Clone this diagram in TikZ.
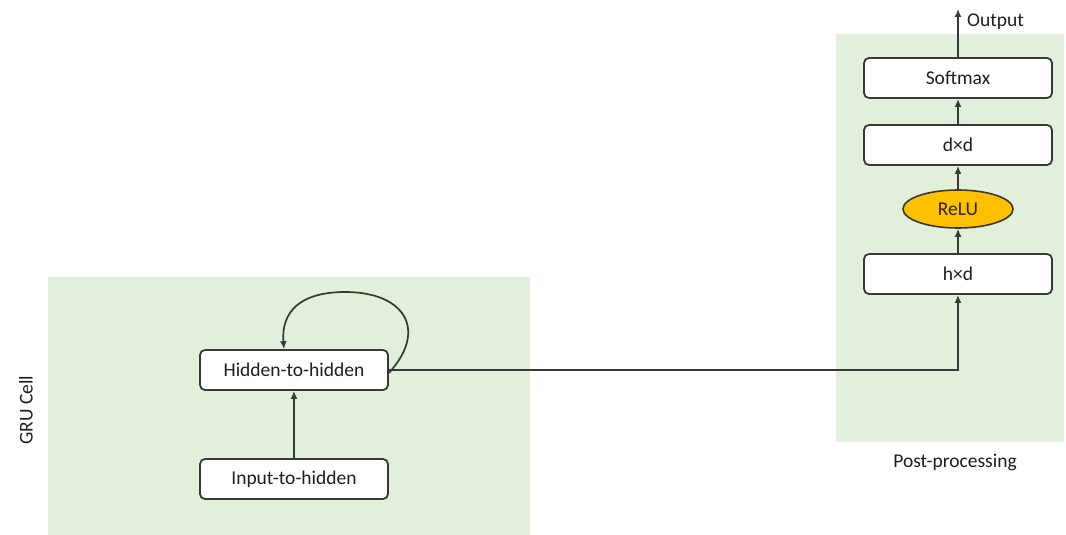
\documentclass[tikz,border=0pt]{standalone}
\usepackage{fontspec}
\setmainfont{Carlito}
\usetikzlibrary{arrows.meta,shapes.geometric}
\definecolor{panelgreen}{HTML}{E2EFDA}
\definecolor{edgegray}{HTML}{383838}
\definecolor{txtgray}{HTML}{1E1E1E}
\definecolor{relugold}{HTML}{FFC000}
\tikzset{
  panel/.style={fill=panelgreen, draw=none},
  layerbox/.style={draw=edgegray, line width=1.8pt, fill=white, rounded corners=5pt,
    minimum width=#1, minimum height=40pt, inner sep=0pt, text=txtgray},
  actnode/.style={ellipse, draw=edgegray, line width=1.6pt, fill=relugold,
    minimum width=110pt, minimum height=38pt, inner sep=0pt, text=black!85},
  link/.style={draw=edgegray, line width=1.7pt, -{Latex[length=8pt,width=7pt]}},
  lbl/.style={text=txtgray, inner sep=0pt}
}
\begin{document}
\begin{tikzpicture}[x=1pt, y=-1pt, font=\fontsize{19.5}{23}\selectfont]
\useasboundingbox (0,0) rectangle (1066,535);
% background panels
\path[panel] (48,277) rectangle (530,535);
\path[panel] (836,34) rectangle (1064,442);

% GRU cell
\node[layerbox=188pt] (hid) at (294,370) {Hidden-to-hidden};
\node[layerbox=188pt] (inp) at (294,479) {Input-to-hidden};
\node[lbl, rotate=90] (gru) at (26,410) {GRU Cell};

% post-processing stack
\node[layerbox=188pt] (soft) at (958,78) {Softmax};
\node[layerbox=188pt] (dd) at (958,145) {d×d};
\node[actnode] (relu) at (958,209) {ReLU};
\node[layerbox=188pt] (hd) at (958,274) {h×d};
\node[lbl] (post) at (955,462) {Post-processing};
\coordinate (out) at (958,9);
\node[lbl, anchor=west] (outlbl) at (967,22) {Output};

% connectors
\draw[link] (inp.north) -- (hid.south);
\coordinate (looptop) at (345,292);
\draw[link] ([yshift=-3pt]hid.east) .. controls (428,330) and (405,292) .. (looptop)
  .. controls (300,292) and (281,312) .. ([xshift=-10pt]hid.north);
\draw[link] (hid.east) -| (hd.south);
\draw[link] (hd.north) -- (relu.south);
\draw[link] (relu.north) -- (dd.south);
\draw[link] (dd.north) -- (soft.south);
\draw[link] (soft.north) -- (out);
\end{tikzpicture}
\end{document}
